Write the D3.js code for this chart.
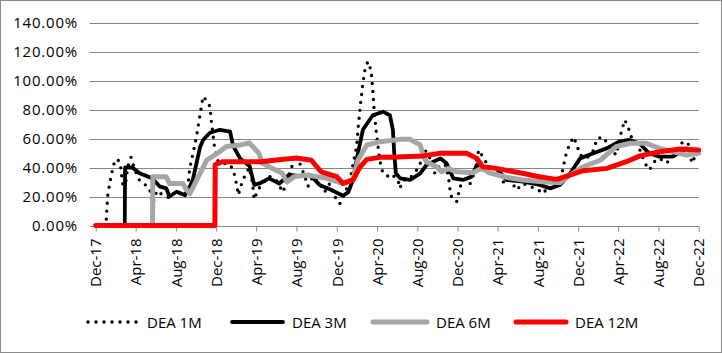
<!DOCTYPE html>
<html lang="en">
<head>
<meta charset="utf-8">
<title>DEA</title>
<script src="https://cdn.jsdelivr.net/npm/d3@7"></script>
<style>
body { margin: 0; background: #fff; }
text { font-family: "Open Sans", sans-serif; font-size: 15px; fill: #000; }
.ylab { letter-spacing: 0.8px; }
</style>
</head>
<body>
<script>
// values in %
var dea1M = [
  ["2017-12-01",0],["2017-12-30",0],["2018-01-02",4],["2018-01-06",20],["2018-01-14",31],["2018-01-24",42],
  ["2018-02-04",46],["2018-02-13",43],["2018-02-18",34],["2018-02-22",27],["2018-02-27",24.5],["2018-03-08",40.5],
  ["2018-03-18",47],["2018-03-23",43],["2018-04-03",36],["2018-04-13",31],["2018-04-23",29],["2018-05-08",27],
  ["2018-05-18",22],["2018-05-23",15],["2018-06-04",24],["2018-06-22",21],["2018-07-12",19],["2018-07-22",22],
  ["2018-08-12",23],["2018-08-27",19],["2018-09-07",29],["2018-09-12",40],["2018-09-22",50],["2018-10-02",61],
  ["2018-10-12",75],["2018-10-22",89],["2018-11-02",86],["2018-11-12",82],["2018-11-17",70],["2018-11-22",61],
  ["2018-11-27",52],["2018-12-07",44],["2018-12-22",43],["2019-01-12",42],["2019-01-22",38],["2019-02-02",27],
  ["2019-02-06",21],["2019-02-16",29],["2019-02-25",34],["2019-03-11",40],["2019-03-21",29],["2019-03-26",18],
  ["2019-04-06",24.5],["2019-04-21",29],["2019-05-11",34],["2019-06-01",31],["2019-06-21",23],["2019-07-11",36],
  ["2019-07-26",46],["2019-08-11",43],["2019-08-26",34],["2019-09-05",27],["2019-09-20",34],["2019-10-10",29],
  ["2019-10-25",23],["2019-11-10",29],["2019-11-25",20],["2019-12-10",15],["2019-12-25",22],["2020-01-10",31],
  ["2020-01-20",43],["2020-01-30",54],["2020-02-04",68],["2020-02-11",84],["2020-02-17",96],["2020-02-24",107],
  ["2020-03-04",113],["2020-03-14",107],["2020-03-19",93],["2020-03-24",77],["2020-03-29",66],["2020-04-09",45],
  ["2020-04-19",36],["2020-05-04",34],["2020-05-19",32.5],["2020-05-29",37],["2020-06-09",25.6],["2020-06-19",31],
  ["2020-07-09",32.5],["2020-07-29",38],["2020-08-09",42],["2020-08-19",52],["2020-08-29",51],["2020-09-13",44],
  ["2020-09-23",36],["2020-10-09",42],["2020-10-19",46],["2020-11-03",34],["2020-11-08",24.5],["2020-11-13",19],
  ["2020-11-28",16.4],["2020-12-09",27],["2020-12-24",32.5],["2021-01-08",29],["2021-01-23",38],["2021-02-03",52],
  ["2021-02-12",48.6],["2021-02-22",45],["2021-03-08",38],["2021-03-28",39.4],["2021-04-18",30],["2021-05-08",32.5],
  ["2021-05-28",24.5],["2021-06-17",29],["2021-07-07",26.8],["2021-07-27",25.6],["2021-08-17",22],["2021-09-02",26.8],
  ["2021-09-17",25.6],["2021-10-07",29],["2021-10-17",40.5],["2021-10-27",51],["2021-11-07",56.7],["2021-11-17",61],
  ["2021-11-27",55.5],["2021-12-07",48.6],["2021-12-27",46.3],["2022-01-17",52],["2022-01-27",60],["2022-02-15",61],
  ["2022-03-06",54],["2022-03-26",48.6],["2022-04-11",64.7],["2022-04-21",72.8],["2022-05-01",68],["2022-05-11",61],
  ["2022-05-26",56.7],["2022-06-06",52],["2022-06-21",43],["2022-07-05",38.3],["2022-07-20",44],["2022-08-05",46.3],
  ["2022-08-25",43],["2022-09-15",47.5],["2022-10-05",55.5],["2022-10-15",57.8],["2022-10-30",56.7],["2022-11-10",43],
  ["2022-11-20",47.5],["2022-11-30",51]
];

var dea3M = [
  ["2017-12-01",0],["2018-02-27",0],["2018-02-28",40],["2018-03-22",40],["2018-04-13",36],["2018-05-22",32.5],
  ["2018-06-12",27],["2018-07-03",25.6],["2018-07-12",20],["2018-08-03",23.3],["2018-08-28",21],["2018-09-12",26.8],
  ["2018-09-21",31.4],["2018-10-13",54],["2018-10-22",59],["2018-11-12",64],["2018-12-12",66],["2019-01-12",64.7],
  ["2019-01-21",55],["2019-02-12",46],["2019-03-12",41],["2019-03-26",28],["2019-04-11",29],["2019-05-10",32.5],
  ["2019-06-10",29],["2019-07-10",35],["2019-08-10",34],["2019-09-10",35],["2019-10-10",28],["2019-11-10",25],
  ["2019-12-20",20.5],["2020-01-05",23],["2020-01-19",31.4],["2020-02-03",49.8],["2020-02-18",66],["2020-03-19",76],
  ["2020-04-19",78.5],["2020-05-10",76],["2020-05-19",66],["2020-05-23",50],["2020-05-28",36],["2020-06-10",32.5],
  ["2020-07-10",31.4],["2020-08-10",36],["2020-08-28",41.7],["2020-10-10",46.3],["2020-10-28",43],["2020-11-18",32.5],
  ["2020-12-18",31.4],["2021-01-12",33.7],["2021-01-28",41.7],["2021-02-18",40.5],["2021-03-28",39.4],["2021-04-28",31.4],
  ["2021-06-16",30.2],["2021-08-07",28],["2021-09-07",25.6],["2021-10-07",28],["2021-11-07",36],["2021-12-07",46.3],
  ["2022-01-16",49.8],["2022-02-25",53.2],["2022-04-04",57.8],["2022-05-04",59],["2022-06-04",56.7],["2022-07-04",49.8],
  ["2022-08-04",47.5],["2022-09-13",47.5],["2022-10-25",53.2],["2022-11-25",49.8]
];

var dea6M = [
  ["2017-12-01",0],["2018-05-22",0],["2018-05-23",33.7],["2018-07-03",33.7],["2018-07-12",29],["2018-08-21",29],
  ["2018-09-03",24.5],["2018-09-12",22],["2018-10-02",31],["2018-11-02",45],["2018-12-12",51],["2019-01-01",54.5],
  ["2019-02-12",55.5],["2019-03-11",57],["2019-04-09",49.8],["2019-04-19",43],["2019-05-19",39.4],["2019-06-19",36],
  ["2019-07-03",30],["2019-07-25",33.7],["2019-09-01",34.8],["2019-11-01",32.5],["2019-12-19",29],["2020-01-19",31.4],
  ["2020-02-03",45],["2020-03-01",55.5],["2020-04-10",57.8],["2020-06-10",59.4],["2020-07-10",59.4],["2020-08-10",55.5],
  ["2020-08-18",48.6],["2020-08-28",44],["2020-09-28",40.5],["2020-10-13",37],["2020-11-02",39.4],["2020-11-28",37],
  ["2021-01-16",36.4],["2021-02-12",39.4],["2021-03-07",36.4],["2021-04-28",33.2],["2021-06-16",31.4],["2021-08-16",30.2],
  ["2021-10-07",29.5],["2021-11-06",34.8],["2021-12-16",40.5],["2022-02-06",45],["2022-03-25",54.3],["2022-05-07",56.7],
  ["2022-06-25",56.7],["2022-08-04",53.2],["2022-09-13",50.9],["2022-10-25",48.6],["2022-12-01",49.8]
];

var dea12M = [
  ["2017-12-01",0],["2018-11-27",0],["2018-11-28",42],["2018-12-20",44],["2019-02-15",44],["2019-04-15",44],
  ["2019-06-15",45.5],["2019-08-01",46.5],["2019-09-15",45],["2019-10-15",37],["2019-12-01",33.7],["2019-12-20",29],
  ["2020-01-19",31.4],["2020-02-10",40.5],["2020-03-01",45.6],["2020-04-10",47],["2020-05-15",47],["2020-08-18",48],
  ["2020-10-10",49.8],["2020-12-28",49.8],["2021-01-28",46.3],["2021-02-15",40.5],["2021-03-28",39.4],["2021-06-15",36],
  ["2021-07-28",34],["2021-09-06",32.5],["2021-09-27",31.8],["2021-11-06",34.8],["2021-12-16",37.8],["2022-02-26",39.4],
  ["2022-04-26",44],["2022-06-06",48],["2022-08-05",50.9],["2022-10-05",52.8],["2022-12-01",52]
];

var yTicks = [0, 20, 40, 60, 80, 100, 120, 140];
var xTickLabels = ["Dec-17","Apr-18","Aug-18","Dec-18","Apr-19","Aug-19","Dec-19","Apr-20",
                   "Aug-20","Dec-20","Apr-21","Aug-21","Dec-21","Apr-22","Aug-22","Dec-22"];
var seriesNames = ["DEA 1M", "DEA 3M", "DEA 6M", "DEA 12M"];

var W = 722, H = 353;
var parse = d3.timeParse("%Y-%m-%d");
var svg = d3.select("body").append("svg").attr("width", W).attr("height", H);

svg.append("rect").attr("x", 0.5).attr("y", 0.5).attr("width", W - 1).attr("height", H - 1)
  .attr("fill", "#fff").attr("stroke", "#8a8a8a");

var x = d3.scaleTime()
  .domain([parse("2017-12-01"), parse("2022-12-01")])
  .range([95.7, 698.7]);
var y = d3.scaleLinear().domain([0, 140]).range([225.5, 22.5]);

// grid
svg.append("g").selectAll("line").data(yTicks).enter().append("line")
  .attr("x1", 89.5).attr("x2", 698.7)
  .attr("y1", function(d) { return Math.round(y(d)) + 0.5; })
  .attr("y2", function(d) { return Math.round(y(d)) + 0.5; })
  .attr("stroke", "#868686").attr("stroke-width", 1);

svg.append("g").selectAll("text").data(yTicks).enter().append("text")
  .attr("class", "ylab")
  .attr("x", 78).attr("y", function(d) { return y(d) + 5.5; })
  .attr("text-anchor", "end")
  .text(function(d) { return d3.format(".2f")(d) + "%"; });

// x axis ticks and labels
var tickDates = xTickLabels.map(function(d) { return d3.timeParse("%b-%y")(d); });
var xa = svg.append("g").attr("transform", "translate(0," + (Math.round(y(0)) + 0.5) + ")")
  .call(d3.axisBottom(x).tickValues(tickDates).tickSize(5).tickFormat(d3.timeFormat("%b-%y")));
xa.select(".domain").remove();
xa.selectAll(".tick line").attr("stroke", "#868686");
xa.selectAll(".tick text")
  .style("font-family", "'Open Sans', sans-serif").style("font-size", "15px").attr("fill", "#000")
  .attr("text-anchor", "end")
  .attr("transform", "rotate(-90)")
  .attr("x", -12).attr("y", 0).attr("dy", "0.35em");

var line = d3.line()
  .x(function(d) { return x(parse(d[0])); })
  .y(function(d) { return y(d[1]); });

var styles = [
  { data: dea1M, color: "#000", width: 3.4, dash: "0 8" },
  { data: dea3M, color: "#000", width: 3.8, dash: null },
  { data: dea6M, color: "#a6a6a6", width: 5, dash: null },
  { data: dea12M, color: "#ff0000", width: 5, dash: null }
];

styles.forEach(function(s) {
  svg.append("path").datum(s.data)
    .attr("d", line)
    .attr("fill", "none")
    .attr("stroke", s.color)
    .attr("stroke-width", s.width)
    .attr("stroke-linejoin", "round")
    .attr("stroke-linecap", "round")
    .attr("stroke-dasharray", s.dash);
});

// legend
var legX = [88, 232, 373, 516];
var legLen = [50, 51, 54, 50];
var legY = 322;
styles.forEach(function(s, i) {
  svg.append("line")
    .attr("x1", legX[i]).attr("x2", legX[i] + legLen[i])
    .attr("y1", legY).attr("y2", legY)
    .attr("stroke", s.color).attr("stroke-width", s.width)
    .attr("stroke-linecap", "round")
    .attr("stroke-dasharray", s.dash);
  svg.append("text")
    .attr("x", legX[i] + legLen[i] + 9).attr("y", legY + 5.5)
    .text(seriesNames[i]);
});
</script>
</body>
</html>
